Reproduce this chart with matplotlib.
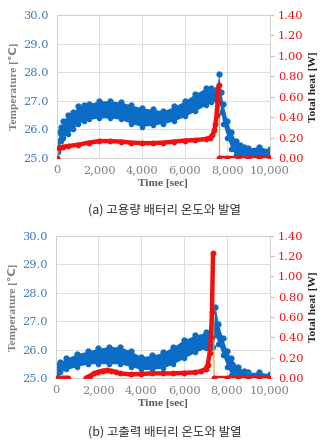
import matplotlib.pyplot as plt
import numpy as np

plt.rcParams['font.family'] = ['DejaVu Serif']

# ---- (a) 고용량 배터리 ----
ta_temp = [0, 50, 100, 200, 300, 500, 750, 1000, 1250, 1500, 2000, 2500, 3000, 3500,
           4000, 4500, 5000, 5500, 6000, 6500, 7000, 7250, 7500, 7600, 7700, 7800,
           8000, 8200, 8400, 8600, 8800, 9000, 9500, 10000]
a_upper = [25.3, 25.6, 25.9, 26.1, 26.3, 26.5, 26.6, 26.8, 26.85, 26.9, 27.0, 27.0, 26.95,
           26.85, 26.75, 26.7, 26.65, 26.8, 27.0, 27.25, 27.45, 27.45, 27.4, 27.95, 27.3,
           26.9, 26.3, 25.9, 25.6, 25.45, 25.4, 25.35, 25.4, 25.3]
a_lower = [25.0, 25.2, 25.4, 25.6, 25.7, 25.85, 26.0, 26.2, 26.3, 26.35, 26.4, 26.4, 26.35,
           26.2, 26.1, 26.15, 26.2, 26.3, 26.45, 26.65, 26.85, 26.95, 27.0, 27.1, 26.6,
           26.2, 25.7, 25.3, 25.1, 25.0, 25.0, 25.0, 25.0, 25.0]

ta_heat = [0, 100, 300, 500, 1000, 1500, 2000, 2500, 3000, 3500, 4000, 4500, 5000, 5500,
           6000, 6500, 7000, 7200, 7300, 7400, 7450, 7500, 7550, 7600]
a_heat = [0.0, 0.10, 0.11, 0.115, 0.13, 0.15, 0.165, 0.165, 0.16, 0.15, 0.145, 0.145, 0.15,
          0.16, 0.17, 0.175, 0.185, 0.2, 0.22, 0.27, 0.33, 0.42, 0.55, 0.71]
ta_heat_off = [7600, 8000, 8500, 9000, 9500, 10000]
a_heat_off = [0, 0, 0, 0, 0, 0]

# ---- (b) 고출력 배터리 ----
tb_temp = [0, 100, 200, 500, 1000, 1500, 2000, 2500, 3000, 3500, 4000, 4500, 5000, 5500,
           6000, 6500, 7000, 7200, 7350, 7450, 7600, 7800, 8000, 8200, 8500, 8800, 9000,
           9500, 10000]
b_upper = [25.2, 25.45, 25.55, 25.7, 25.85, 25.95, 26.05, 26.1, 26.1, 25.95, 25.75, 25.8,
           25.9, 26.1, 26.35, 26.5, 26.6, 26.55, 26.7, 27.5, 26.9, 26.4, 25.95, 25.7, 25.4,
           25.25, 25.2, 25.2, 25.15]
b_lower = [25.0, 25.05, 25.2, 25.3, 25.4, 25.5, 25.5, 25.5, 25.5, 25.4, 25.3, 25.3, 25.35,
           25.5, 25.7, 25.9, 26.05, 26.05, 26.1, 26.5, 26.2, 25.8, 25.4, 25.1, 25.0, 25.0,
           25.0, 25.0, 25.0]

tb_heat_start = [0]
b_heat_start = [0.0]
tb_heat_early = [300, 400, 500, 600]
b_heat_early = [0, 0, 0, 0]
tb_heat = [1400, 1600, 1800, 2000, 2200, 2400, 2600, 2800, 3000, 3500, 4000, 4500, 5000,
           5500, 6000, 6500, 6800, 7000, 7100, 7200, 7250, 7300, 7350]
b_heat = [0.0, 0.02, 0.045, 0.06, 0.072, 0.075, 0.07, 0.06, 0.045, 0.035, 0.04, 0.045,
          0.045, 0.045, 0.05, 0.055, 0.065, 0.09, 0.13, 0.25, 0.4, 0.65, 1.23]
tb_heat_off = [7400, 8000, 8500, 9000, 9500, 10000]
b_heat_off = [0, 0, 0, 0, 0, 0]

captions = ['(a) 고용량 배터리 온도와 발열', '(b) 고출력 배터리 온도와 발열']

BLUE = '#0a6cc4'
RED = '#f01010'
ORANGE = '#f0a030'
LABEL_FONT = ['Liberation Serif', 'DejaVu Sans']

fig = plt.figure(figsize=(3.29, 4.40), dpi=100)


def draw(rect, t_temp, lo, hi, heat_parts, connectors, caption, cap_y):
    ax = fig.add_axes(rect)
    ax.fill_between(t_temp, lo, hi, color=BLUE, lw=0, zorder=2)
    ax.plot(t_temp, hi, 'o', color=BLUE, ms=3.5, zorder=2)
    ax.plot(t_temp, lo, 'o', color=BLUE, ms=3.0, zorder=2)
    ax.set_xlim(0, 10000)
    ax.set_ylim(25, 30)
    ax.set_xticks(np.arange(0, 10001, 2000))
    ax.set_xticklabels(['0', '2,000', '4,000', '6,000', '8,000', '10,000'])
    ax.set_yticks(np.arange(25, 30.1, 1))
    ax.set_yticklabels(['%.1f' % v for v in np.arange(25, 30.1, 1)])
    ax.grid(True, color='#dcdcdc', lw=0.7, zorder=0)
    ax.set_axisbelow(True)
    for s in ax.spines.values():
        s.set_color('#d0d0d0')
        s.set_linewidth(0.7)
    ax.tick_params(axis='y', length=0, colors='#3f7ab8', labelsize=8.2, pad=6)
    ax.tick_params(axis='x', length=0, colors='#7f7f7f', labelsize=8.2, pad=5)
    ax.set_ylabel('Temperature [\u2103]', fontsize=8.2, fontweight='bold',
                  color='#7f7f7f', family=LABEL_FONT, labelpad=3)
    ax.set_xlabel('Time [sec]', fontsize=8.2, fontweight='bold', color='#595959',
                  family=LABEL_FONT, labelpad=3)

    ax2 = ax.twinx()
    ax2.set_ylim(0, 1.4)
    ax2.set_yticks(np.arange(0, 1.41, 0.2))
    ax2.set_yticklabels(['%.2f' % v for v in np.arange(0, 1.41, 0.2)])
    ax2.tick_params(axis='y', length=3, color='#bfbfbf', labelcolor=RED, labelsize=8.2, pad=3)
    for s in ax2.spines.values():
        s.set_visible(False)
    ax2.set_ylabel('Total heat [W]', fontsize=8.2, fontweight='bold', color='#222222',
                   family=LABEL_FONT, labelpad=4)
    for ct, cq in connectors:
        ax2.plot(ct, cq, color=ORANGE, lw=0.9, zorder=3)
    for t, q in heat_parts:
        ax2.plot(t, q, '-', color=RED, lw=3.2, solid_capstyle='round', zorder=4)
        ax2.plot(t, q, 'o', color=RED, ms=3.2, zorder=4)
    fig.text(0.5, cap_y, caption, ha='center', va='center', fontsize=9, color='#333333',
             family=['Noto Sans CJK KR', 'DejaVu Sans'])


draw([0.173, 0.641, 0.647, 0.325], ta_temp, a_lower, a_upper,
     [(ta_heat[:1], a_heat[:1]), (ta_heat[1:], a_heat[1:]), (ta_heat_off, a_heat_off)],
     [((ta_heat[0], ta_heat[1]), (a_heat[0], a_heat[1])),
      ((ta_heat[-1], ta_heat_off[0]), (a_heat[-1], a_heat_off[0]))],
     captions[0], 1 - 210 / 440)
draw([0.169, 0.141, 0.651, 0.323], tb_temp, b_lower, b_upper,
     [(tb_heat_start, b_heat_start), (tb_heat_early, b_heat_early), (tb_heat, b_heat),
      (tb_heat_off, b_heat_off)],
     [((tb_heat[-1], tb_heat_off[0]), (b_heat[-1], b_heat_off[0]))],
     captions[1], 1 - 432 / 440)

fig.savefig('out.png', dpi=100)
